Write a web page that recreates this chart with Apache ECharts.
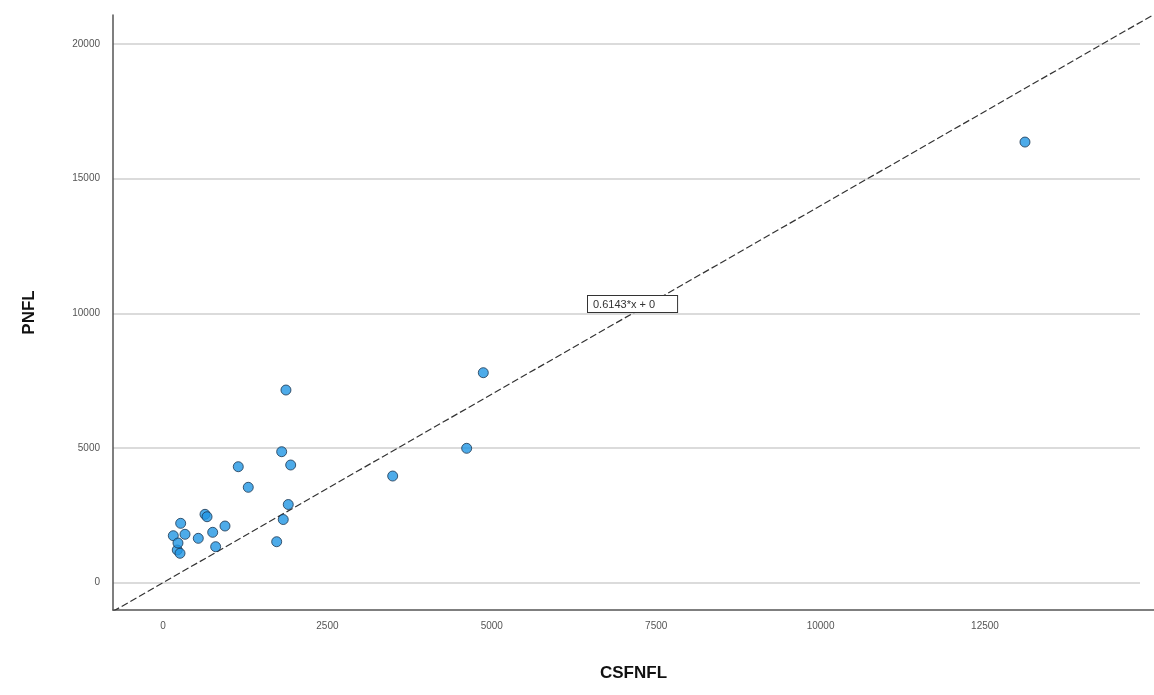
<!DOCTYPE html>
<html>
<head>
<meta charset="utf-8">
<script src="https://cdn.jsdelivr.net/npm/echarts@6/dist/echarts.min.js"></script>
<style>
html,body{margin:0;padding:0;background:#fff;}
#c{width:1154px;height:695px;}
</style>
</head>
<body>
<div id="c"></div>
<script>
// Data
var csfnfl = [269, 157, 335, 217, 259, 228, 537, 639, 670, 756, 943, 801, 1145, 1297, 1729, 1829, 1905, 1805, 1942, 1870, 3493, 4618, 4871, 13108];
var pnfl   = [2205, 1745, 1797, 1214, 1092, 1474, 1648, 2539, 2450, 1871, 2105, 1337, 4307, 3542, 1522, 2346, 2903, 4864, 4370, 7154, 3961, 4990, 7797, 16360];
var xTicks = [0, 2500, 5000, 7500, 10000, 12500];
var yTicks = [0, 5000, 10000, 15000, 20000];
var xRange = [-760, 15070];
var yRange = [-1013, 21077];
var gridEndX = 14857;
var slope = 1.4;
var fitLabel = '0.6143*x + 0';

var points = csfnfl.map(function (x, i) { return [x, pnfl[i]]; });
var lineData = [[xRange[0], slope * xRange[0]], [xRange[1], slope * xRange[1]]];
var gridLines = yTicks.map(function (v) {
  return [{ coord: [xRange[0], v] }, { coord: [gridEndX, v] }];
});
function plain(v) { return String(v); }

var chart = echarts.init(document.getElementById('c'));
chart.setOption({
  animation: false,
  backgroundColor: '#ffffff',
  grid: { left: 113, right: 0, top: 15, bottom: 85 },
  xAxis: {
    type: 'value',
    min: xRange[0], max: xRange[1],
    name: 'CSFNFL',
    nameLocation: 'middle',
    nameGap: 55,
    nameTextStyle: { fontFamily: 'Liberation Sans', fontWeight: 'bold', fontSize: 17, color: '#111' },
    axisLine: { show: true, onZero: false, lineStyle: { color: '#555', width: 1.5 } },
    axisTick: { show: false },
    splitLine: { show: false },
    axisLabel: {
      customValues: xTicks,
      formatter: plain,
      margin: 11,
      fontFamily: 'Liberation Sans Narrow, Liberation Sans',
      fontSize: 10,
      color: '#555'
    }
  },
  yAxis: {
    type: 'value',
    min: yRange[0], max: yRange[1],
    name: 'PNFL',
    nameLocation: 'middle',
    nameGap: 75,
    nameRotate: 90,
    nameTextStyle: { fontFamily: 'Liberation Sans', fontWeight: 'bold', fontSize: 17, color: '#111' },
    axisLine: { show: true, onZero: false, lineStyle: { color: '#555', width: 1.5 } },
    axisTick: { show: false },
    splitLine: { show: false },
    axisLabel: {
      customValues: yTicks,
      formatter: plain,
      margin: 13,
      fontFamily: 'Liberation Sans Narrow, Liberation Sans',
      fontSize: 10,
      color: '#555'
    }
  },
  series: [
    {
      type: 'line',
      data: lineData,
      showSymbol: false,
      symbol: 'none',
      clip: true,
      silent: true,
      lineStyle: { color: '#333', width: 1.2, type: [7, 3] },
      markLine: {
        silent: true,
        symbol: ['none', 'none'],
        label: { show: false },
        lineStyle: { color: '#cfcfcf', width: 1.5, type: 'solid' },
        data: gridLines,
        z: 0
      },
      z: 3
    },
    {
      type: 'scatter',
      data: points,
      symbolSize: 10,
      itemStyle: { color: '#2196e3', borderColor: '#1d3650', borderWidth: 1 },
      z: 5
    }
  ],
  graphic: [
    {
      type: 'text',
      left: 587,
      top: 295,
      z: 10,
      style: {
        text: fitLabel,
        fontFamily: 'Liberation Sans Narrow, Liberation Sans',
        fontSize: 11,
        fill: '#333',
        backgroundColor: '#fff',
        borderColor: '#333',
        borderWidth: 1,
        padding: [3, 22, 2, 5]
      }
    }
  ]
});
</script>
</body>
</html>
